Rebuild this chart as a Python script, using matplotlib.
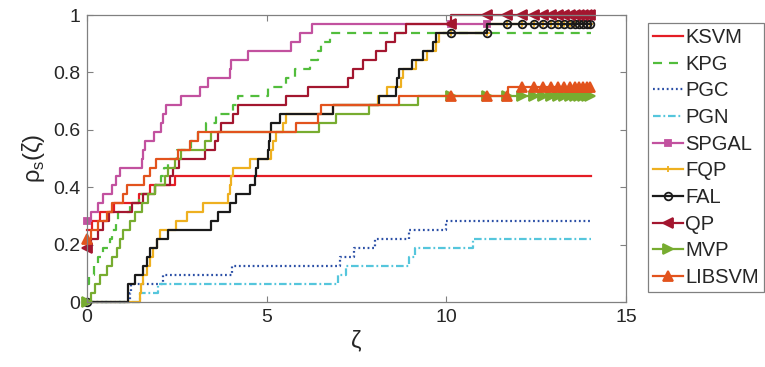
import matplotlib
matplotlib.use("Agg")
import matplotlib.pyplot as plt
from matplotlib.lines import Line2D
import numpy as np

# performance profile, 32 test problems; levels below are solved-counts
N_PROBLEMS = 32
ZETA_END = 14.02
MARKER_ZETA = [0.0, 10.12, 11.12, 11.70, 12.11, 12.44, 12.70, 12.92, 13.11,
               13.28, 13.43, 13.57, 13.70, 13.81, 13.92, 14.01]

SOLVERS = ["KSVM", "KPG", "PGC", "PGN", "SPGAL", "FQP", "FAL", "QP", "MVP", "LIBSVM"]

KSVM_ZETA = [0.0, 0.15, 0.35, 0.75, 1.45, 1.75, 2.45]
KSVM_SOLVED = [8, 9, 10, 11, 12, 13, 14]

KPG_ZETA = [0.0, 0.05, 0.2, 0.3, 0.45, 0.65, 0.7, 0.8, 0.87, 1.2, 1.45, 1.9, 2.05,
            2.15, 2.25, 2.5, 2.9, 3.1, 3.32, 3.6, 4.06, 4.2, 5.04, 5.55, 5.78,
            6.2, 6.43, 6.5, 6.75]
KPG_SOLVED = [2, 3, 4, 5, 6, 7, 8, 9, 10, 11, 12, 13, 14, 15, 16, 17, 18, 19,
              20, 21, 22, 23, 24, 25, 26, 27, 28, 29, 30]

PGC_ZETA = [0.0, 1.2, 1.22, 2.12, 4.05, 7.03, 7.44, 8.03, 8.95, 10.0]
PGC_SOLVED = [0, 1, 2, 3, 4, 5, 6, 7, 8, 9]

PGN_ZETA = [0.0, 1.47, 1.97, 6.98, 7.2, 8.95, 9.12, 10.73]
PGN_SOLVED = [0, 1, 2, 3, 4, 5, 6, 7]

SPGAL_ZETA = [0.0, 0.11, 0.3, 0.45, 0.69, 0.8, 0.92, 1.52, 1.56, 1.62, 1.86,
              2.06, 2.12, 2.2, 2.63, 3.14, 3.37, 3.97, 4.0, 4.47, 5.69, 5.92, 6.27]
SPGAL_SOLVED = [9, 10, 11, 12, 13, 14, 15, 16, 17, 18, 19, 20, 21, 22, 23, 24,
                25, 26, 27, 28, 29, 30, 31]
SPGAL_END = 11.12

FQP_ZETA = [0.0, 1.47, 1.5, 1.56, 1.66, 1.75, 1.84, 1.94, 2.03, 2.49, 2.77, 3.23,
            3.93, 3.97, 4.02, 4.06, 4.55, 5.12, 5.18, 5.27, 5.45, 5.55, 6.84,
            8.1, 8.36, 8.75, 8.8, 9.15, 9.45, 9.72, 9.8, 11.14]
FQP_SOLVED = [0, 1, 2, 3, 4, 5, 6, 7, 8, 9, 10, 11, 12, 13, 14, 15, 16, 17, 18,
              19, 20, 21, 22, 23, 24, 25, 26, 27, 28, 29, 30, 31]

FAL_ZETA = [0.0, 1.15, 1.33, 1.56, 1.68, 1.75, 1.94, 2.26, 3.44, 3.65, 3.97, 4.14,
            4.55, 4.67, 4.7, 4.76, 5.04, 5.06, 5.09, 5.12, 5.36, 6.84, 8.14, 8.6,
            8.62, 8.69, 9.04, 9.34, 9.62, 9.71, 11.14]
FAL_SOLVED = [0, 2, 3, 4, 5, 6, 7, 8, 9, 10, 11, 12, 13, 14, 15, 16, 17, 18, 19,
              20, 21, 22, 23, 24, 25, 26, 27, 28, 29, 30, 31]

QP_ZETA = [0.0, 0.12, 0.3, 0.45, 0.6, 1.25, 1.55, 1.9, 2.3, 2.4, 2.55, 3.28,
           3.56, 3.65, 3.74, 4.06, 4.2, 5.55, 6.15, 7.26, 7.4, 7.68, 8.05,
           8.32, 8.56, 8.88, 10.14]
QP_SOLVED = [6, 7, 8, 9, 10, 11, 12, 13, 14, 15, 16, 17, 18, 19, 20, 21, 22,
             23, 24, 25, 26, 27, 28, 29, 30, 31, 32]

MVP_ZETA = [0.0, 0.12, 0.23, 0.36, 0.55, 0.7, 0.83, 0.92, 1.0, 1.19, 1.33, 1.52,
            1.7, 1.89, 2.17, 2.26, 2.44, 2.63, 3.28, 3.46, 6.47, 6.94, 7.86, 9.2]
MVP_SOLVED = [0, 1, 2, 3, 4, 5, 6, 7, 8, 9, 10, 11, 12, 13, 14, 15, 16, 17, 18,
              19, 20, 21, 22, 23]

LIBSVM_ZETA = [0.0, 0.1, 0.3, 0.55, 0.7, 1.0, 1.1, 1.6, 1.75, 1.93, 2.54, 2.86,
               3.09, 5.82, 6.43, 6.52, 8.69, 11.72]
LIBSVM_SOLVED = [7, 8, 9, 10, 11, 12, 13, 14, 15, 16, 17, 18, 19, 20, 21, 22,
                 23, 24]

SERIES = {
    "KSVM": (KSVM_ZETA, KSVM_SOLVED, ZETA_END),
    "KPG": (KPG_ZETA, KPG_SOLVED, ZETA_END),
    "PGC": (PGC_ZETA, PGC_SOLVED, ZETA_END),
    "PGN": (PGN_ZETA, PGN_SOLVED, ZETA_END),
    "SPGAL": (SPGAL_ZETA, SPGAL_SOLVED, SPGAL_END),
    "FQP": (FQP_ZETA, FQP_SOLVED, ZETA_END),
    "FAL": (FAL_ZETA, FAL_SOLVED, ZETA_END),
    "QP": (QP_ZETA, QP_SOLVED, ZETA_END),
    "MVP": (MVP_ZETA, MVP_SOLVED, ZETA_END),
    "LIBSVM": (LIBSVM_ZETA, LIBSVM_SOLVED, ZETA_END),
}

STYLES = {
    "KSVM": dict(color="#e41d25", ls="-", marker=None),
    "KPG": dict(color="#52bd3c", ls=(0, (6.5, 5)), marker=None),
    "PGC": dict(color="#2b4fa6", ls=(0, (1.3, 2.0)), marker=None),
    "PGN": dict(color="#55c6dc", ls=(0, (5.5, 2.0, 1.3, 2.0)), marker=None),
    "SPGAL": dict(color="#c2519f", ls="-", marker="s", ms=5),
    "FQP": dict(color="#eeb020", ls="-", marker="+", ms=5),
    "FAL": dict(color="#1a1a1a", ls="-", marker="o", ms=5.5, mfc="none"),
    "QP": dict(color="#a3162f", ls="-", marker="<", ms=7.5),
    "MVP": dict(color="#77ac30", ls="-", marker=">", ms=7.5),
    "LIBSVM": dict(color="#e2531d", ls="-", marker="^", ms=7.5),
}


def step_points(zeta, solved, end):
    zeta = np.asarray(zeta, dtype=float)
    solved = np.asarray(solved, dtype=float)
    marks = [m for m in MARKER_ZETA if m <= end + 1e-9]
    pts = np.unique(np.concatenate([zeta, marks, [end]]))
    idx = np.searchsorted(zeta, pts, side="right") - 1
    rho = solved[idx] / N_PROBLEMS
    mark_idx = [int(np.argmin(np.abs(pts - m))) for m in marks]
    return pts, rho, mark_idx


def main():
    plt.rcParams["font.family"] = ["Liberation Sans", "DejaVu Sans"]
    plt.rcParams["lines.scale_dashes"] = False

    fig = plt.figure(figsize=(7.65, 3.67), dpi=100)
    ax = fig.add_axes([0.1137, 0.177, 0.7045, 0.782])

    handles = []
    for name in SOLVERS:
        zeta, solved, end = SERIES[name]
        st = STYLES[name]
        x, y, mk = step_points(zeta, solved, end)
        kw = dict(color=st["color"], ls=st["ls"], lw=1.6, drawstyle="steps-post",
                  clip_on=False)
        if st["marker"]:
            kw.update(marker=st["marker"], ms=st["ms"], markevery=mk,
                      mfc=st.get("mfc", st["color"]), mec=st["color"], mew=1.3)
        ax.plot(x, y, **kw)
        handles.append(Line2D([], [], color=st["color"], ls=st["ls"], lw=1.6,
                              marker=st["marker"], ms=st.get("ms", 0),
                              mfc=st.get("mfc", st["color"]), mec=st["color"], mew=1.3))

    ax.set_xlim(0, 15)
    ax.set_ylim(0, 1)
    ax.set_xticks([0, 5, 10, 15])
    ax.set_yticks([0, 0.2, 0.4, 0.6, 0.8, 1.0])
    ax.set_yticklabels(["0", "0.2", "0.4", "0.6", "0.8", "1"])
    ax.tick_params(direction="in", top=True, right=True, length=4, width=0.8,
                   color="#808080", labelcolor="#262626", labelsize=14, pad=5)
    for sp in ax.spines.values():
        sp.set_color("#808080")
        sp.set_linewidth(0.9)

    ax.set_xlabel("ζ", fontsize=17, color="#262626", labelpad=3)
    ax.set_ylabel(r"ρ$_\mathregular{s}$(ζ)", fontsize=17, color="#262626", labelpad=4)

    leg = fig.legend(handles, SOLVERS, loc="upper left", bbox_to_anchor=(0.847, 0.937),
                     fontsize=14.5, frameon=True, fancybox=False, framealpha=1,
                     edgecolor="#808080", handlelength=1.5, handletextpad=0.1,
                     labelspacing=0.38, borderpad=0.25, borderaxespad=0)
    leg.get_frame().set_linewidth(0.9)
    for t in leg.get_texts():
        t.set_color("#262626")

    fig.savefig("out.png", dpi=100)


if __name__ == "__main__":
    main()
